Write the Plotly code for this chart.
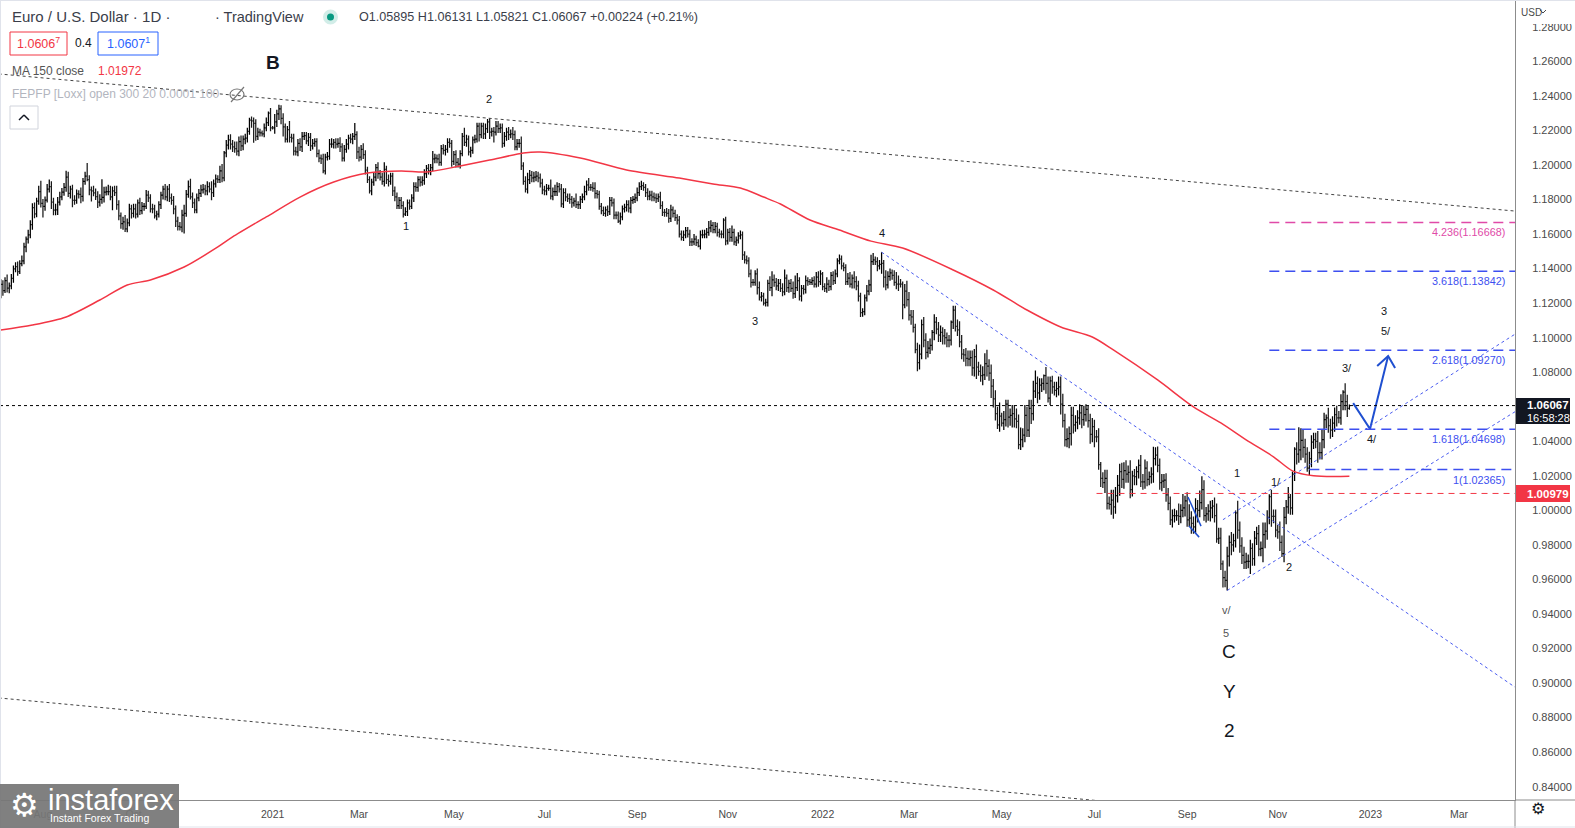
import pandas as pd
import plotly.graph_objects as go

# ---------------- data ----------------
START = "2020-07-03"          # first daily bar
FIRST_OPEN = 1.1240
HDR_O, HDR_H, HDR_L, HDR_C = "1.05895", "1.06131", "1.05821", "1.06067"
HDR_CHG, HDR_PCT = "+0.00224", "+0.21%"
LAST_PRICE = 1.06067
MA_LAST = "1.01972"
RED_LEVEL = 1.00979
CLOCK = "16:58:28"

# daily closes in pips (1.1248 -> 11248), one row per week (Mon..Fri)
close_pips = [
11248,
11308,11273,11330,11287,11300, 11343,11398,11411,11383,11428, 11445,11525,11570,11595,11655,
11753,11717,11790,11845,11778, 11760,11797,11860,11875,11785, 11738,11740,11785,11815,11842,
11870,11930,11835,11860,11795, 11795,11833,11830,11818,11905, 11935,11915,11855,11850,11838,
11817,11785,11800,11812,11843, 11845,11845,11815,11850,11840, 11770,11705,11660,11670,11630,
11665,11745,11720,11745,11715, 11780,11735,11760,11760,11825, 11810,11745,11745,11705,11715,
11770,11825,11860,11815,11860, 11810,11795,11745,11675,11645, 11640,11710,11720,11830,11875,
11815,11780,11740,11810,11835, 11855,11860,11850,11875,11860, 11840,11890,11920,11915,11965,
11925,12070,12115,12145,12120, 12105,12095,12080,12135,12110, 12150,12155,12195,12260,12255,
12240,12165,12190,12185,12180, 12215,12245,12300,12215,12215,
12250,12295,12325,12270,12220, 12150,12205,12160,12155,12080, 12075,12125,12105,12165,12170,
12140,12160,12110,12125,12135, 12065,12040,12035,11965,12045, 12050,12120,12120,12130,12120,
12125,12105,12040,12090,12120, 12155,12150,12165,12175,12075, 12045,12090,12060,11970,11915,
11850,11900,11930,11985,11950, 11930,11905,11975,11915,11905, 11935,11850,11815,11765,11795,
11765,11715,11730,11780,11760, 11810,11875,11870,11915,11900, 11910,11950,11980,11965,11985,
12035,12040,12035,12015,12095, 12085,12090,12130,12125,12020, 12060,12015,12005,12065,12165,
12130,12150,12075,12085,12145, 12150,12225,12175,12225,12180, 12210,12250,12190,12195,12190,
12225,12210,12215,12125,12165, 12190,12175,12180,12175,12105, 12125,12125,11995,11905,11860,
11915,11940,11925,11930,11935, 11925,11895,11855,11850,11865, 11865,11820,11845,11845,11875,
11860,11775,11840,11815,11805, 11800,11780,11790,11770,11770, 11800,11815,11845,11885,11870,
11870,11865,11835,11830,11760, 11735,11720,11740,11730,11795, 11780,11710,11710,11675,11700,
11745,11755,11770,11750,11795, 11800,11810,11840,11875,11880, 11870,11840,11820,11825,11815,
11810,11805,11815,11765,11725, 11725,11720,11690,11740,11720, 11695,11680,11600,11580,11595,
11620,11600,11555,11555,11570, 11550,11530,11595,11595,11600, 11610,11635,11650,11625,11645,
11610,11600,11600,11680,11560, 11610,11580,11610,11555,11565, 11590,11595,11480,11450,11445,
11370,11320,11320,11370,11290, 11235,11240,11200,11205,11315, 11290,11335,11320,11300,11315,
11285,11265,11345,11290,11315, 11285,11255,11290,11330,11240, 11285,11280,11330,11325,11320,
11330,11310,11350,11325,11370,
11295,11285,11310,11295,11360, 11330,11370,11445,11455,11415, 11405,11325,11345,11310,11345,
11325,11300,11240,11145,11150, 11230,11270,11305,11440,11450, 11440,11415,11425,11430,11350,
11305,11355,11375,11360,11320, 11310,11310,11310,11190,11270, 11220,11130,11120,11060,10930,
10855,10905,11075,10985,10915, 10940,10955,11030,11090,11050, 11015,11030,11010,11000,10985,
10985,11090,11160,11065,11045, 10975,10905,10900,10880,10875, 10885,10825,10890,10830,10805,
10780,10785,10850,10835,10795, 10720,10645,10560,10495,10545, 10505,10525,10615,10540,10550,
10560,10530,10515,10380,10410, 10435,10550,10465,10590,10560, 10690,10735,10680,10725,10735,
10780,10735,10650,10750,10715, 10695,10705,10715,10615,10520, 10410,10415,10445,10550,10495,
10510,10535,10565,10525,10555, 10585,10520,10440,10485,10425, 10425,10265,10185,10160,10185,
10040,10035,10060,10020,10085, 10145,10225,10180,10230,10210, 10220,10120,10200,10195,10225,
10260,10165,10165,10245,10180, 10195,10210,10300,10320,10260, 10160,10170,10175,10090,10040,
9945,9970,9970,9970,9965, 10000,10015,10055,9945,9955, 9925,9905,10010,10000,10045,
10120,9970,9980,9995,10015, 10025,9970,9835,9840,9690, 9610,9595,9735,9815,9800,
9825,9985,9885,9795,9740, 9700,9705,9705,9780,9720, 9840,9865,9775,9780,9860,
9880,9960,10080,9965,9965, 9885,9875,9815,9750,9960, 10020,10075,10015,10210,10355,
10325,10350,10405,10365,10325, 10245,10300,10395,10410,10400, 10335,10335,10410,10525,10535,
10490,10465,10505,10555,10535, 10535,10630,10685,10630,10590,
10607,
]

# upper wick above max(open, close), pips
up_pips = [
15,
30,25,20,35,20, 25,20,25,30,20, 30,25,15,30,25,
25,30,20,35,64, 25,20,30,41,30, 25,35,30,30,25,
25,36,30,20,25, 30,25,20,40,20, 25,76,25,20,30,
25,30,30,105,30, 30,40,35,25,30, 40,25,20,30,40,
25,30,25,30,30, 20,30,25,20,30, 25,20,30,25,20,
20,20,20,30,20, 30,25,25,20,25, 25,30,50,25,35,
45,25,25,25,25, 30,30,25,30,25, 45,25,25,20,30,
40,10,30,30,32, 25,30,40,30,35, 20,25,20,13,20,
20,25,25,20,15, 25,30,10,30,10,
45,25,24,20,30, 20,20,50,20,25, 25,25,30,25,20,
20,25,25,25,20, 20,25,20,30,20, 25,30,35,20,25,
30,35,20,25,30, 20,25,20,68,20, 30,25,35,25,20,
20,20,25,20,30, 20,25,40,20,30, 20,20,25,25,20,
20,25,25,20,20, 20,25,25,20,20, 25,25,20,25,20,
45,25,20,30,20, 25,25,25,25,20, 20,25,25,20,20,
50,25,20,20,20, 25,20,20,20,20, 30,16,20,20,25,
30,30,25,25,25, 25,30,25,40,25, 25,25,40,20,30,
40,30,25,30,30, 25,25,25,25,25, 20,50,25,40,25,
20,30,25,25,20, 30,20,20,45,20, 20,20,35,25,40,
20,30,35,20,20, 20,25,20,25,20, 20,25,20,20,25,
20,20,25,25,20, 20,25,30,25,29, 20,20,25,25,25,
25,25,20,30,25, 20,25,25,30,20, 20,20,25,20,25,
20,20,25,20,30, 20,20,25,30,25, 25,40,30,20,25,
20,20,20,12,20, 20,25,40,20,20, 20,25,20,20,25,
20,25,20,20,30, 35,25,20,20,20, 40,50,30,25,25,
25,30,50,20,20, 25,40,70,45,20, 20,20,30,20,15,
20,25,30,35,20,
10,20,40,25,20, 25,25,15,27,20, 20,20,30,35,20,
40,30,30,20,20, 20,35,30,40,40, 20,25,25,65,20,
40,30,25,20,30, 60,50,30,15,40, 60,45,30,40,20,
40,55,30,45,40, 40,40,15,45,30, 40,40,30,40,30,
30,10,25,25,40, 50,40,30,40,45, 40,40,45,70,30,
40,50,60,80,40, 50,40,50,40,80, 20,50,26,26,40,
50,50,60,40,70, 40,60,50,50,50, 60,75,40,40,30,
7,50,40,25,30, 30,40,60,60,60, 40,60,40,50,50,
40,45,50,45,50, 30,20,40,50,40, 40,50,15,35,50,
50,40,60,60,50, 60,45,50,48,60, 40,70,30,40,30,
34,60,45,50,40, 30,40,68,45,50, 40,40,35,40,40,
40,35,40,30,70, 35,80,30,50,80, 40,40,60,50,70,
78,55,40,40,40, 35,50,70,60,60, 20,40,55,40,60,
40,14,70,50,50, 50,50,40,50,30, 40,40,50,40,70,
50,40,14,40,40, 40,30,60,40,60, 40,60,20,15,10,
40,131,70,60,50, 40,40,40,40,40, 60,60,60,40,20,
59,40,40,40,50, 40,43,10,51,40,
6,
]

# lower wick below min(open, close), pips
dn_pips = [
20,
20,30,15,25,30, 20,25,20,25,15, 15,20,30,25,20,
30,25,20,20,25, 64,25,15,20,40, 30,30,30,20,20,
20,25,20,30,40, 25,20,25,40,30, 20,10,30,61,20,
20,35,25,25,30, 20,20,20,78,20, 30,25,30,35,18,
20,20,30,25,25, 20,25,20,25,15, 25,20,25,15,25,
20,25,25,20,25, 25,25,30,35,25, 20,30,107,20,20,
15,30,20,20,20, 20,20,25,25,20, 45,25,20,20,20,
25,20,25,25,30, 30,25,25,30,30, 25,30,25,20,40,
111,25,20,20,15, 20,20,20,20,10,
35,30,35,35,55, 20,20,30,25,25, 21,25,25,30,20,
20,30,30,20,20, 20,25,30,13,20, 20,20,20,25,25,
20,30,20,20,20, 30,25,30,20,40, 25,20,25,25,20,
15,25,20,25,30, 20,20,30,25,30, 20,30,25,20,20,
20,20,11,25,20, 15,25,25,25,25, 20,25,25,20,25,
20,25,25,20,20, 25,30,20,25,30, 20,30,20,25,15,
20,25,20,30,20, 20,20,40,20,30, 30,25,40,25,60,
20,25,25,25,20, 25,30,20,30,20, 20,25,25,20,20,
25,25,25,25,25, 25,25,25,25,25, 15,20,25,25,25,
20,20,25,25,20, 25,28,20,20,25, 25,20,20,20,20,
20,20,30,25,20, 20,15,20,25,20, 20,25,25,11,20,
20,20,25,25,30, 20,20,20,20,20, 20,25,25,25,25,
20,25,20,20,20, 25,20,25,20,25, 20,25,20,17,20,
20,20,25,25,20, 20,6,20,20,20, 25,20,25,20,20,
25,20,25,25,25, 20,25,25,20,25, 20,20,30,20,20,
20,30,20,20,40, 20,25,14,20,25, 20,50,25,25,30,
20,25,20,25,30, 20,30,25,20,25, 30,30,25,25,15,
15,20,20,30,20,
20,20,25,25,20, 25,20,20,20,20, 20,20,20,20,25,
40,25,30,25,24, 20,20,25,40,20, 20,30,20,55,60,
30,20,25,25,20, 30,40,20,84,20, 40,30,45,30,20,
49,40,30,40,40, 30,35,30,45,30, 40,40,50,40,40,
40,30,40,30,35, 30,30,40,45,40, 40,45,50,70,25,
35,55,30,60,45, 70,50,40,24,40, 20,40,40,60,50,
70,50,40,26,31, 45,40,40,40,60, 40,40,60,40,40,
40,60,25,40,40, 30,40,40,60,40, 40,45,56,70,50,
40,40,40,50,35, 40,40,55,45,60, 30,30,50,30,60,
35,30,60,68,40, 40,60,50,55,50, 50,50,40,50,50,
40,30,45,40,40, 35,40,50,40,40, 40,50,40,40,40,
30,44,40,30,50, 40,40,50,40,40, 61,40,40,70,40,
40,30,40,40,60, 60,40,22,30,35, 57,40,59,60,60,
40,40,50,40,50, 40,40,40,73,40, 40,40,40,40,80,
80,50,40,60,40, 40,40,50,20,50, 40,40,40,40,40,
60,50,60,60,50, 22,40,50,40,40, 60,40,40,50,50,
40,50,40,50,50, 30,40,50,50,50,
8,
]

# MA 150 close, sampled along the red curve (bar number, value)
ma_bar = [1, 16, 32, 48, 61, 72, 88, 104, 111, 127, 143, 159, 175, 191, 203, 219, 233, 249,
          257, 276, 298, 323, 339, 352, 363, 371, 385, 399, 414, 429, 453, 472, 488, 504,
          519, 529, 550, 567, 580, 592, 605, 614, 624, 641]
ma_val = [1.1044, 1.1073, 1.1120, 1.1218, 1.1305, 1.1334, 1.1409, 1.1525, 1.1583, 1.1699,
          1.1814, 1.1901, 1.1953, 1.1965, 1.1959, 1.1994, 1.2028, 1.2069, 1.2075, 1.2040,
          1.1971, 1.1924, 1.1890, 1.1866, 1.1814, 1.1774, 1.1681, 1.1623, 1.1559, 1.1519,
          1.1392, 1.1276, 1.1160, 1.1062, 1.1004, 1.0929, 1.0755, 1.0599, 1.0506, 1.0408,
          1.0310, 1.0229, 1.0200, 1.0197]

# Fibonacci extension levels
fib_ratio = ["4.236", "3.618", "2.618", "1.618", "1"]
fib_price = [1.16668, 1.13842, 1.09270, 1.04698, 1.02365]
fib_color = ["#e04aa8", "#3d4ff0", "#3d4ff0", "#3d4ff0", "#3d4ff0"]
fib_start = ["2022-10-26", "2022-10-26", "2022-10-26", "2022-10-26", "2022-11-22"]
RED_START = "2022-07-04"

# trend lines: two anchors (date, price), extended to the right
trend_lines = [
    (("2020-07-03", 1.2527), ("2021-05-25", 1.2271), "#444444", "dot"),
    (("2020-07-03", 0.8914), ("2022-06-22", 0.8329), "#444444", "dot"),
    (("2022-02-10", 1.1495), ("2022-08-15", 1.0389), "#4a5cf0", "dot"),
    (("2022-09-26", 0.9946), ("2022-11-21", 1.0256), "#4a5cf0", "dot"),
    (("2022-09-28", 0.9536), ("2022-11-03", 0.9733), "#4a5cf0", "dot"),
]

# projected path (bar number, price) and arrow head
proj_bar = [642.8, 650.8, 659.4]
proj_val = [1.0621, 1.0471, 1.0894]
head_bar = [654.2, 659.4, 662.7]
head_val = [1.0836, 1.0894, 1.0824]
stroke_bar = [[564.4, 570.6], [564.9, 569.7]]
stroke_val = [[1.0077, 0.9909], [0.9909, 0.9845]]

# wave labels: text, bar number, price, size, colour, bold
waves = [
    ("B", 130.2, 1.2594, 19, "#131722", True),
    ("2", 232.7, 1.2384, 11, "#131722", False),
    ("1", 193.3, 1.1646, 11, "#131722", False),
    ("3", 358.9, 1.1099, 11, "#131722", False),
    ("4", 419.2, 1.1606, 11, "#131722", False),
    ("1", 587.7, 1.0216, 11, "#131722", False),
    ("1/", 606.2, 1.0164, 11, "#131722", False),
    ("2", 612.4, 0.9672, 11, "#131722", False),
    ("3/", 639.9, 1.0824, 11, "#131722", False),
    ("3", 657.5, 1.1157, 11, "#131722", False),
    ("5/", 658.4, 1.1036, 11, "#131722", False),
    ("4/", 651.8, 1.0413, 11, "#131722", False),
    ("v/", 583.0, 0.9423, 11, "#555555", False),
    ("5", 582.5, 0.9290, 11, "#555555", False),
    ("C", 583.9, 0.9180, 19, "#131722", False),
    ("Y", 583.9, 0.8954, 19, "#131722", False),
    ("2", 583.9, 0.8728, 19, "#131722", False),
]

# price-scale ticks (1.06 sits under the last-price tag in the reference)
y_tick_vals = [0.84, 0.86, 0.88, 0.90, 0.92, 0.94, 0.96, 0.98, 1.00, 1.02, 1.04,
               1.08, 1.10, 1.12, 1.14, 1.16, 1.18, 1.20, 1.22, 1.24, 1.26, 1.28]
x_tick_month = ["2020-08-01", "2020-10-01", "2021-01-01", "2021-03-01", "2021-05-01",
                "2021-07-01", "2021-09-01", "2021-11-01", "2022-01-01", "2022-03-01",
                "2022-05-01", "2022-07-01", "2022-09-01", "2022-11-01", "2023-01-01",
                "2023-03-01"]
x_tick_text = ["Aug", "Oct", "2021", "Mar", "May", "Jul", "Sep", "Nov", "2022", "Mar",
               "May", "Jul", "Sep", "Nov", "2023", "Mar"]

# ---------------- build ----------------
n = len(close_pips)
assert len(up_pips) == n and len(dn_pips) == n, (n, len(up_pips), len(dn_pips))
cal = pd.bdate_range(START, periods=900)


def bar(d):
    return int(cal.searchsorted(pd.Timestamp(d)))


closes = [v / 1e4 for v in close_pips]
opens = [FIRST_OPEN] + closes[:-1]
highs = [max(o, c) + u / 1e4 for o, c, u in zip(opens, closes, up_pips)]
lows = [min(o, c) - d / 1e4 for o, c, d in zip(opens, closes, dn_pips)]

XR = [0.62, 719.6]
YR = [0.8323, 1.2955]
W_PLOT, H_PLOT = 1515.0, 800.0
FONT = "Liberation Sans"


def px(x):
    return x / W_PLOT


def py(y):
    return (H_PLOT - y) / H_PLOT


fig = go.Figure()
fig.add_trace(go.Ohlc(
    x=list(range(n)), open=opens, high=highs, low=lows, close=closes,
    increasing=dict(line=dict(color="#000000", width=1.25)),
    decreasing=dict(line=dict(color="#1a1a1a", width=1.25)),
    tickwidth=0.5, hoverinfo="skip", showlegend=False))

fig.add_trace(go.Scatter(x=ma_bar, y=ma_val, mode="lines",
                         line=dict(color="#f23645", width=1.5, shape="spline", smoothing=0.8),
                         hoverinfo="skip", showlegend=False))

fig.add_trace(go.Scatter(x=proj_bar, y=proj_val, mode="lines",
                         line=dict(color="#1f4fd0", width=2), hoverinfo="skip", showlegend=False))
fig.add_trace(go.Scatter(x=head_bar, y=head_val, mode="lines",
                         line=dict(color="#1f4fd0", width=2), hoverinfo="skip", showlegend=False))
for sb, sv in zip(stroke_bar, stroke_val):
    fig.add_trace(go.Scatter(x=sb, y=sv, mode="lines",
                             line=dict(color="#1f4fd0", width=1.5), hoverinfo="skip", showlegend=False))

shapes = []
annotations = []

# trend lines
X_END = XR[1] + 5
for (d1, p1), (d2, p2), col, dash in trend_lines:
    x1, x2 = bar(d1), bar(d2)
    s = (p2 - p1) / (x2 - x1)
    shapes.append(dict(type="line", xref="x", yref="y", x0=x1, y0=p1, x1=X_END,
                       y1=p1 + s * (X_END - x1), line=dict(color=col, width=1, dash=dash)))

# current price line
shapes.append(dict(type="line", xref="x", yref="y", x0=XR[0], x1=XR[1], y0=LAST_PRICE,
                   y1=LAST_PRICE, line=dict(color="#000000", width=1, dash="dot")))
# red level
shapes.append(dict(type="line", xref="x", yref="y", x0=bar(RED_START), x1=XR[1], y0=RED_LEVEL,
                   y1=RED_LEVEL, line=dict(color="#f23645", width=1, dash="6px,5px")))
# fib levels
for r, p, col, st in zip(fib_ratio, fib_price, fib_color, fib_start):
    shapes.append(dict(type="line", xref="x", yref="y", x0=bar(st), x1=XR[1], y0=p, y1=p,
                       line=dict(color=col, width=1.5, dash="10px,6px")))
    annotations.append(dict(xref="paper", yref="y", x=1, y=p, xanchor="right", yanchor="middle",
                            xshift=-8, yshift=-10, showarrow=False, text=f"{r}({p:.5f})",
                            font=dict(family=FONT, size=10.8, color=col)))

# wave labels
for t, b, p, sz, col, bold in waves:
    annotations.append(dict(xref="x", yref="y", x=b, y=p, showarrow=False,
                            text=f"<b>{t}</b>" if bold else t, xanchor="center", yanchor="middle",
                            font=dict(family=FONT, size=sz, color=col)))


def txt(x, y, s, size=12, color="#131722", xanchor="left", family=FONT):
    annotations.append(dict(xref="paper", yref="paper", x=px(x), y=py(y), text=s,
                            showarrow=False, xanchor=xanchor, yanchor="middle",
                            font=dict(family=family, size=size, color=color)))


def rect(x0, y0, x1, y1, fill=None, line=None, lw=1):
    shapes.append(dict(type="rect", xref="paper", yref="paper", x0=px(x0), x1=px(x1),
                       y0=py(y1), y1=py(y0), fillcolor=fill or "rgba(0,0,0,0)",
                       line=dict(color=line or "rgba(0,0,0,0)", width=lw if line else 0),
                       layer="above"))


def seg(x0, y0, x1, y1, color, w=1):
    shapes.append(dict(type="line", xref="paper", yref="paper", x0=px(x0), x1=px(x1),
                       y0=py(y0), y1=py(y1), line=dict(color=color, width=w), layer="above"))


# header
txt(10, 17, "Euro / U.S. Dollar · 1D ·", 15, "#3a3e4a")
txt(213, 17, "· TradingView", 14.5, "#3a3e4a")
shapes.append(dict(type="circle", xref="paper", yref="paper", x0=px(323), x1=px(338),
                   y0=py(24.5), y1=py(9.5), fillcolor="rgba(8,153,129,0.18)",
                   line=dict(width=0), layer="above"))
shapes.append(dict(type="circle", xref="paper", yref="paper", x0=px(327), x1=px(334),
                   y0=py(20.5), y1=py(13.5), fillcolor="#089981", line=dict(width=0), layer="above"))
txt(357, 17, f"O{HDR_O} H{HDR_H} L{HDR_L} C{HDR_C} {HDR_CHG} ({HDR_PCT})", 12.6, "#3a3e4a")

rect(10, 32, 67, 55, line="#f23645")
txt(38.5, 43.5, "1.0606<sup>7</sup>", 12.5, "#f23645", "center")
txt(83, 43.5, "0.4", 12, "#131722", "center")
rect(98, 32, 158, 55, line="#2962ff")
txt(128, 43.5, "1.0607<sup>1</sup>", 12.5, "#2962ff", "center")

txt(10, 71, "MA 150 close", 12, "#555555")
txt(96, 71, MA_LAST, 12, "#f23645")
txt(10, 94, "FEPFP [Loxx] open 300 20 0.0001 100", 12, "#b2b5be")
shapes.append(dict(type="circle", xref="paper", yref="paper", x0=px(230), x1=px(244),
                   y0=py(100), y1=py(89), line=dict(color="#777777", width=1.2), layer="above"))
seg(231, 102, 244, 87, "#777777", 1.2)
rect(10, 106, 38, 129, line="#d1d4dc")
seg(19, 120, 24, 115, "#131722", 1.5)
seg(24, 115, 29, 120, "#131722", 1.5)

# right price scale extras
rect(1516, 0, 1575, 24, fill="#ffffff")
txt(1519, 12, "USD", 10, "#4a4a4a")
seg(1540, 10, 1543, 13, "#4a4a4a", 1)
seg(1543, 13, 1546, 10, "#4a4a4a", 1)
rect(1516, 398, 1570, 424, fill="#131722")
txt(1525, 405, "<b>1.06067</b>", 11.5, "#ffffff")
txt(1525, 418, CLOCK, 11, "#ffffff")
rect(1516, 485, 1570, 502, fill="#f23645")
txt(1525, 493.5, "<b>1.00979</b>", 11.5, "#ffffff")
txt(1538, 808, "⚙", 16, "#131722", "center", "DejaVu Sans")
seg(1515, 800, 1575, 800, "#8c8c8c", 1)
seg(1515, 800, 1515, 828, "#8c8c8c", 1)

# frame
seg(0, 0.5, 1575, 0.5, "#e0e3eb", 1)
seg(0.5, 0, 0.5, 828, "#e0e3eb", 1)
seg(0, 827, 1575, 827, "#e0e3eb", 1)

# instaforex badge
rect(0, 784, 179, 828, fill="rgba(118,118,118,0.93)")
txt(24, 805, "⚙", 32, "#ffffff", "center", "DejaVu Sans")
txt(46, 800, "instaforex", 29, "#ffffff")
txt(48, 818, "Instant Forex Trading", 10.5, "#ffffff")

x_tick_vals = [bar(m) for m in x_tick_month]

fig.update_layout(
    width=1575, height=828, autosize=False,
    margin=dict(l=0, r=60, t=0, b=28),
    paper_bgcolor="#ffffff", plot_bgcolor="#ffffff",
    font=dict(family=FONT, size=11, color="#4a4a4a"),
    showlegend=False, hovermode=False,
    shapes=shapes, annotations=annotations,
    xaxis=dict(range=XR, tickvals=x_tick_vals, ticktext=x_tick_text, showgrid=False,
               zeroline=False, showline=True, linecolor="#8c8c8c", ticks="",
               tickfont=dict(size=10.5, color="#4a4a4a"), ticklabelstandoff=4,
               rangeslider=dict(visible=False), fixedrange=True),
    yaxis=dict(range=YR, side="right", tickvals=y_tick_vals,
               ticktext=[f"{v:.5f}" for v in y_tick_vals], showgrid=False, zeroline=False,
               showline=True, linecolor="#8c8c8c", ticks="", ticklabelstandoff=14,
               tickfont=dict(size=11, color="#4a4a4a"), fixedrange=True),
)

fig.write_html("out.html", config={"displayModeBar": False},
               post_script="document.body.style.margin='0';document.body.style.overflow='hidden';")
